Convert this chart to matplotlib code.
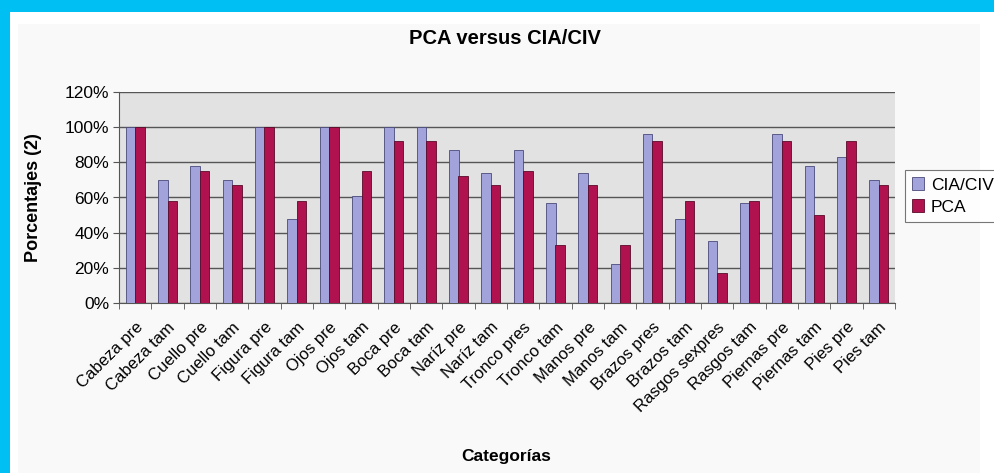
import numpy as np
import matplotlib.pyplot as plt
from matplotlib.patches import Rectangle
from matplotlib.ticker import FuncFormatter

plt.rcParams['font.family'] = ['Liberation Sans', 'DejaVu Sans']

# Data
categorias = ['Cabeza pre', 'Cabeza tam', 'Cuello pre', 'Cuello tam', 'Figura pre',
              'Figura tam', 'Ojos pre', 'Ojos tam', 'Boca pre', 'Boca tam',
              'Naríz pre', 'Naríz tam', 'Tronco pres', 'Tronco tam', 'Manos pre',
              'Manos tam', 'Brazos pres', 'Brazos tam', 'Rasgos sexpres', 'Rasgos tam',
              'Piernas pre', 'Piernas tam', 'Pies pre', 'Pies tam']
cia_civ = [100, 70, 78, 70, 100, 48, 100, 61, 100, 100, 87, 74,
           87, 57, 74, 22, 96, 48, 35, 57, 96, 78, 83, 70]
pca = [100, 58, 75, 67, 100, 58, 100, 75, 92, 92, 72, 67,
       75, 33, 67, 33, 92, 58, 17, 58, 92, 50, 92, 67]

W, H = 995, 473
fig = plt.figure(figsize=(W / 100, H / 100), dpi=100)
fig.patch.set_facecolor('#00bff3')

# white frame and light panel inside the cyan border
fig.add_artist(Rectangle((10 / W, 0), 1, 1 - 12 / H, transform=fig.transFigure,
                         facecolor='white', edgecolor='none', zorder=0))
fig.add_artist(Rectangle((18 / W, 0), (980 - 18) / W, 1 - 24 / H, transform=fig.transFigure,
                         facecolor='#f9f9f9', edgecolor='none', zorder=0))

# plot area: x 119..895, y 92..303 (pixels from top)
ax = fig.add_axes([119 / W, 1 - 303 / H, (895 - 119) / W, (303 - 92) / H])
ax.set_facecolor('#e2e2e2')

x = np.arange(len(categorias))
bw = 0.29
ax.bar(x - bw / 2, cia_civ, bw, color='#a3a3dc', edgecolor='#4a4a7a', linewidth=0.6,
       label='CIA/CIV', zorder=3)
ax.bar(x + bw / 2, pca, bw, color='#b0124f', edgecolor='#5a0a28', linewidth=0.6,
       label='PCA', zorder=3)

ax.set_xlim(-0.5, len(categorias) - 0.5)
ax.set_ylim(0, 120)
ax.set_yticks(np.arange(0, 121, 20))
ax.yaxis.set_major_formatter(FuncFormatter(lambda v, p: '%d%%' % v))
ax.grid(axis='y', color='#555555', linewidth=1.0, zorder=1)

ax.set_xticks(x)
ax.set_xticklabels(categorias, rotation=45, ha='right', rotation_mode='anchor',
                   fontsize=12)
ax.set_xticks(np.arange(-0.5, len(categorias), 1), minor=True)
ax.tick_params(axis='x', which='major', length=0, pad=12)
ax.tick_params(axis='x', which='minor', length=4, color='#555555')
ax.tick_params(axis='y', labelsize=12.5, length=4, color='#555555', pad=3)

for s in ['top', 'right']:
    ax.spines[s].set_visible(False)
for s in ['left', 'bottom']:
    ax.spines[s].set_color('#555555')

fig.text(505 / W, 1 - 39 / H, 'PCA versus CIA/CIV', ha='center', va='center',
         fontsize=14.5, fontweight='bold')
fig.text(34 / W, 1 - 198 / H, 'Porcentajes (2)', ha='center', va='center',
         rotation=90, fontsize=13, fontweight='bold')
fig.text(506 / W, 1 - 456 / H, 'Categorías', ha='center', va='center',
         fontsize=12.5, fontweight='bold')

leg = ax.legend(loc='center left', bbox_to_anchor=(905 / W, 1 - 196 / H),
                bbox_transform=fig.transFigure, fontsize=12.5, frameon=True,
                fancybox=False, edgecolor='#555555', handlelength=0.7,
                handleheight=0.7, handletextpad=0.4, borderpad=0.4,
                labelspacing=0.4, borderaxespad=0)
leg.get_frame().set_linewidth(0.8)

fig.savefig('out.png', dpi=100, facecolor=fig.get_facecolor())
